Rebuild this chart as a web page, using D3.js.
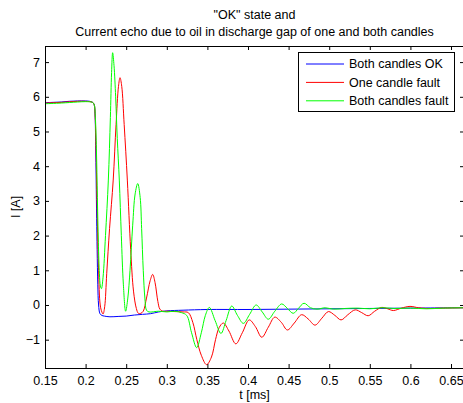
<!DOCTYPE html>
<html><head><meta charset="utf-8">
<script src="https://cdn.jsdelivr.net/npm/d3@7"></script>
<style>
body{margin:0;background:#fff;}
text{font-family:"Liberation Sans",Arial,Helvetica,sans-serif;font-size:12.5px;fill:#000;}
</style></head>
<body><svg id="c" width="463" height="403"></svg>
<script>
const titleLines = ['"OK" state and', 'Current echo due to oil in discharge gap of one and both candles'];
const xLabel = "t [ms]";
const yLabel = "I [A]";
const seriesNames = ["Both candles OK", "One candle fault", "Both candles fault"];
const seriesColors = ["#0000ff", "#ff0000", "#00ff00"];
const xTicks = [0.15,0.2,0.25,0.3,0.35,0.4,0.45,0.5,0.55,0.6,0.65];
const yTicks = [-1,0,1,2,3,4,5,6,7];

const blueT = [0.150,0.160,0.170,0.180,0.190,0.200,0.205,0.2085,0.2105,0.2116,0.2124,0.2130,0.2136,0.2142,0.2150,0.2160,0.2177,0.2200,0.2230,0.2300,0.2400,0.2500,0.2600,0.2700,0.2800,0.2900,0.3000,0.3200,0.3500,0.4000,0.4500,0.5000,0.5500,0.6000,0.6660];
const blueI = [5.83,5.84,5.85,5.87,5.88,5.88,5.87,5.84,5.78,5.5,4.6,3.6,2.5,1.6,0.6,0.0,-0.25,-0.30,-0.32,-0.34,-0.33,-0.32,-0.29,-0.27,-0.25,-0.20,-0.17,-0.15,-0.13,-0.13,-0.12,-0.11,-0.10,-0.09,-0.08];

const redT = [0.150,0.170,0.190,0.200,0.2085,0.2105,0.2118,0.2128,0.2138,0.2148,0.2160,0.2180,0.2200,0.2215,0.2235,0.2260,0.2295,0.2340,0.2375,0.2405,0.2424,0.2445,0.2475,0.2514,0.2555,0.2590,0.2625,0.2650,0.2680,0.2710,0.2750,0.2795,0.2826,0.2855,0.2890,0.2915,0.2950,0.3000,0.3100,0.3200,0.3265,0.3320,0.3370,0.3425,0.3490,0.3550,0.3600,0.3645,0.3696,0.3765,0.3850,0.3930,0.4015,0.4090,0.4170,0.4250,0.4330,0.4410,0.4485,0.4570,0.4660,0.4740,0.4825,0.4910,0.4990,0.5070,0.5146,0.5230,0.5320,0.5400,0.5480,0.5560,0.5646,0.5720,0.5790,0.5890,0.5995,0.6100,0.6200,0.6400,0.6660];
const redI = [5.82,5.84,5.87,5.87,5.84,5.78,5.4,4.5,3.3,2.1,1.0,0.0,-0.2,-0.26,-0.05,0.9,2.2,3.6,5.2,6.3,6.55,6.3,5.2,3.6,1.6,0.4,-0.1,-0.24,-0.24,-0.18,0.2,0.7,0.88,0.65,0.1,-0.12,-0.18,-0.18,-0.19,-0.20,-0.22,-0.5,-1.0,-1.45,-1.72,-1.5,-1.0,-0.65,-0.52,-0.75,-1.12,-0.8,-0.43,-0.62,-0.93,-0.64,-0.35,-0.5,-0.72,-0.52,-0.28,-0.4,-0.58,-0.38,-0.19,-0.3,-0.43,-0.28,-0.14,-0.22,-0.31,-0.18,-0.07,-0.11,-0.16,-0.09,-0.04,-0.08,-0.10,-0.09,-0.08];

const greenT = [0.150,0.170,0.190,0.200,0.2085,0.2105,0.2120,0.2133,0.2145,0.2157,0.2170,0.2182,0.2195,0.2215,0.2245,0.2280,0.2305,0.2320,0.2333,0.2350,0.2370,0.2390,0.2415,0.2440,0.2465,0.2493,0.2520,0.2547,0.2580,0.2610,0.2642,0.2672,0.2690,0.2710,0.2730,0.2750,0.2780,0.2900,0.3000,0.3100,0.3180,0.3245,0.3305,0.3368,0.3425,0.3475,0.3524,0.3595,0.3667,0.3730,0.3800,0.3870,0.3943,0.4020,0.4100,0.4175,0.4250,0.4330,0.4415,0.4485,0.4557,0.4620,0.4690,0.4770,0.4850,0.4950,0.5050,0.5200,0.5350,0.5500,0.5650,0.5800,0.6000,0.6200,0.6400,0.6660];
const greenI = [5.80,5.82,5.85,5.86,5.84,5.78,5.4,4.5,3.1,1.8,0.9,0.55,0.47,0.8,2.0,3.6,5.4,6.7,7.27,6.9,6.0,4.8,3.6,2.0,0.6,-0.18,0.2,1.0,2.3,3.2,3.5,3.1,2.2,1.0,0.2,-0.15,-0.2,-0.18,-0.2,-0.18,-0.22,-0.3,-0.8,-1.23,-0.8,-0.3,-0.07,-0.45,-0.82,-0.45,-0.03,-0.3,-0.53,-0.27,0.0,-0.2,-0.41,-0.18,0.03,-0.1,-0.24,-0.1,0.05,-0.08,-0.12,-0.08,-0.12,-0.1,-0.09,-0.11,-0.08,-0.1,-0.09,-0.11,-0.09,-0.08];

const seriesT = [blueT, redT, greenT];
const seriesI = [blueI, redI, greenI];

const L = 45, R = 464, T = 46, B = 368;
const svg = d3.select("#c");
const x = d3.scaleLinear().domain([0.15, 0.666]).range([L, R]);
const y = d3.scaleLinear().domain([-1.816, 7.464]).range([B, T]);

// title
svg.selectAll("text.title").data(titleLines).join("text")
  .attr("class","title").attr("x",(L+R)/2).attr("y",(d,i)=>19+i*16.5)
  .attr("text-anchor","middle").text(d=>d);

// clip
svg.append("defs").append("clipPath").attr("id","clip")
  .append("rect").attr("x",L).attr("y",T).attr("width",R-L).attr("height",B-T);

// series
const line = d3.line().x(d=>x(d[0])).y(d=>y(d[1])).curve(d3.curveCatmullRom.alpha(0.5));
const g = svg.append("g").attr("clip-path","url(#clip)");
[0,1,2].forEach(k=>{
  const pts = seriesT[k].map((t,i)=>[t, seriesI[k][i]]);
  g.append("path").attr("d", line(pts)).attr("fill","none")
   .attr("stroke", seriesColors[k]).attr("stroke-width",1);
});

// axes
const ax = svg.append("g");
ax.append("g").attr("transform",`translate(0,${B})`)
  .call(d3.axisBottom(x).tickValues(xTicks).tickSizeInner(-4).tickSizeOuter(0).tickPadding(8).tickFormat(d3.format("")))
  .call(s=>{s.select(".domain").remove(); s.selectAll("text").attr("font-size",null).attr("font-family",null).attr("dy","0.71em").attr("y",8);});
ax.append("g").attr("transform",`translate(0,${T})`)
  .call(d3.axisTop(x).tickValues(xTicks).tickSizeInner(-4).tickSizeOuter(0).tickFormat(""))
  .call(s=>s.select(".domain").remove());
ax.append("g").attr("transform",`translate(${L},0)`)
  .call(d3.axisLeft(y).tickValues(yTicks).tickSizeInner(-4).tickSizeOuter(0).tickPadding(7).tickFormat(d3.format("")))
  .call(s=>{s.select(".domain").remove(); s.selectAll("text").attr("font-size",null).attr("font-family",null).attr("x",-5);});
ax.append("g").attr("transform",`translate(${R},0)`)
  .call(d3.axisRight(y).tickValues(yTicks).tickSizeInner(-4).tickSizeOuter(0).tickFormat(""))
  .call(s=>s.select(".domain").remove());
svg.selectAll(".tick line").attr("stroke","#000");
svg.append("rect").attr("x",L+0.5).attr("y",T+0.5).attr("width",R-L).attr("height",B-T)
  .attr("fill","none").attr("stroke","#000").attr("stroke-width",1);

// labels
svg.append("text").attr("x",(L+R)/2).attr("y",399).attr("text-anchor","middle").text(xLabel);
svg.append("text").attr("transform",`translate(20,${(T+B)/2}) rotate(-90)`).attr("text-anchor","middle").text(yLabel);

// legend
const lg = svg.append("g");
lg.append("rect").attr("x",298.5).attr("y",52.5).attr("width",156).attr("height",59)
  .attr("fill","#fff").attr("stroke","#000").attr("stroke-width",1);
seriesNames.forEach((n,i)=>{
  const yy = 64 + i*18.4;
  lg.append("line").attr("x1",306).attr("x2",344).attr("y1",yy).attr("y2",yy)
    .attr("stroke",seriesColors[i]).attr("stroke-width",1);
  lg.append("text").attr("x",349).attr("y",yy).attr("dy","0.35em").text(n);
});
</script></body></html>
